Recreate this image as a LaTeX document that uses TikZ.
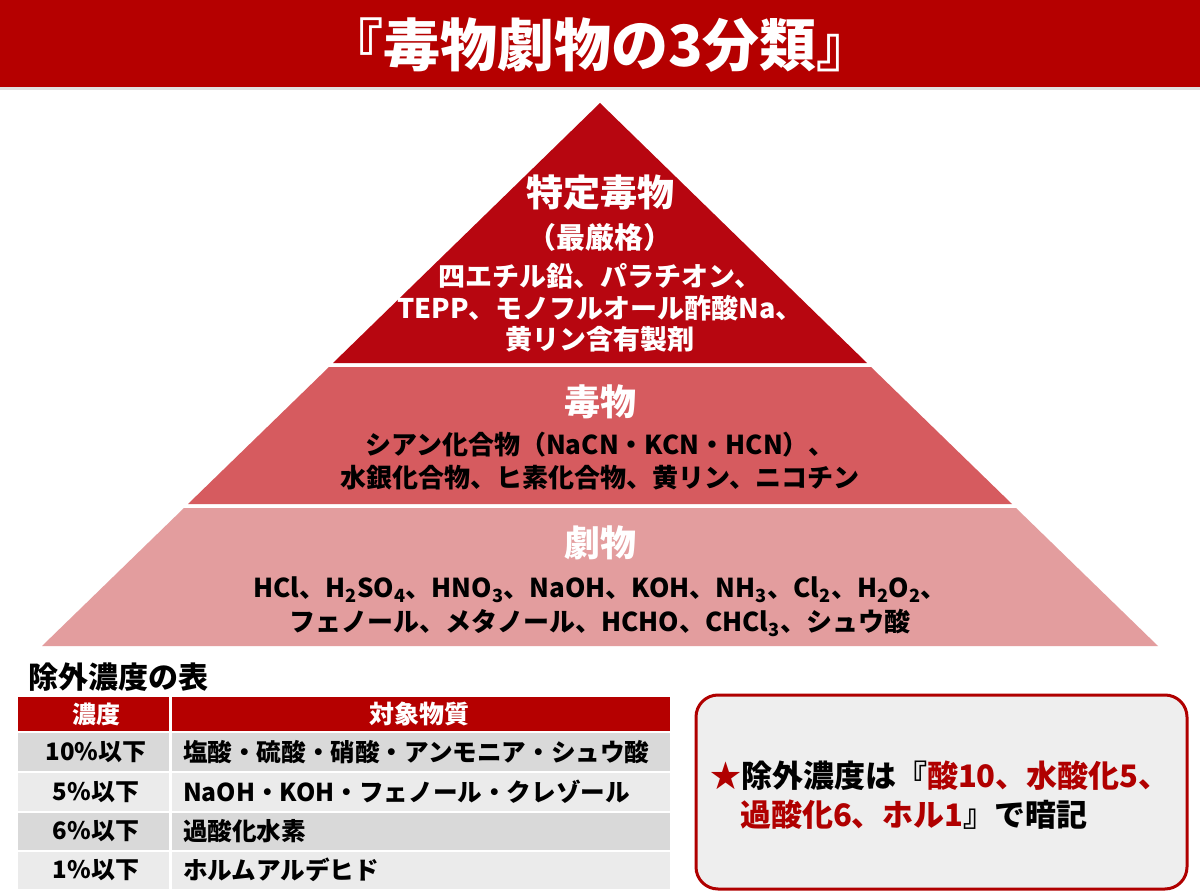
\documentclass[tikz,border=0pt]{standalone}
\usepackage{fontspec}
\setmainfont{Noto Sans CJK JP}
\definecolor{titlered}{HTML}{B50000}
\definecolor{tierA}{HTML}{B70610}
\definecolor{tierB}{HTML}{D65B5F}
\definecolor{tierC}{HTML}{E39D9E}
\definecolor{rowdark}{HTML}{D9D9D9}
\definecolor{rowlight}{HTML}{EBEBEB}
\definecolor{boxfill}{HTML}{EEEEEE}
\definecolor{accent}{HTML}{B00000}
\newcommand{\chsub}[1]{\textsubscript{#1}}
\begin{document}
\begin{tikzpicture}[x=1pt,y=1pt,
  txt/.style={inner sep=0pt, outer sep=0pt, font=\bfseries},
  headtxt/.style={txt, text=white, font=\fontsize{36}{40}\selectfont\bfseries},
  bodytxt/.style={txt, align=center},
  celltxt/.style={txt, font=\fontsize{24}{28}\selectfont\bfseries},
  memotxt/.style={txt, anchor=west, font=\fontsize{31}{36}\selectfont\bfseries}]
\useasboundingbox (0,0) rectangle (1200,-896);
\fill[white] (0,0) rectangle (1200,-896);
% title bar
\fill[black!12] (0,-86) rectangle (1200,-90);
\fill[titlered] (0,0) rectangle (1200,-87);
\node[txt, text=white, font=\fontsize{57}{62}\selectfont\bfseries] (title) at (600,-45) {『毒物劇物の3分類』};
% pyramid
\fill[tierA] (600,-103) -- (333,-363) -- (867,-363) -- cycle;
\fill[tierB] (329,-367) -- (871,-367) -- (1012,-504) -- (188,-504) -- cycle;
\fill[tierC] (184,-508) -- (1016,-508) -- (1158,-646) -- (42,-646) -- cycle;
% tier 1
\node[txt, text=white, font=\fontsize{37}{42}\selectfont\bfseries] (t1head) at (600,-193) {特定毒物};
\node[txt, text=white, font=\fontsize{29}{32}\selectfont\bfseries] (t1sub) at (600,-237) {（最厳格）};
\node[bodytxt, text=white, font=\fontsize{27}{31.5}\selectfont\bfseries] (t1body) at (600,-308) {四エチル鉛、パラチオン、\\TEPP、モノフルオール酢酸Na、\\黄リン含有製剤};
% tier 2
\node[headtxt] (t2head) at (600,-402) {毒物};
\node[bodytxt, text=black, font=\fontsize{26}{33}\selectfont\bfseries] (t2body) at (600,-461.5) {シアン化合物（NaCN・KCN・HCN）、\\水銀化合物、ヒ素化合物、黄リン、ニコチン};
% tier 3
\node[headtxt] (t3head) at (600,-543) {劇物};
\node[bodytxt, text=black, font=\fontsize{26}{34}\selectfont\bfseries] (t3body) at (600,-607) {HCl、H\chsub{2}SO\chsub{4}、HNO\chsub{3}、NaOH、KOH、NH\chsub{3}、Cl\chsub{2}、H\chsub{2}O\chsub{2}、\\フェノール、メタノール、HCHO、CHCl\chsub{3}、シュウ酸};
% table
\node[txt, anchor=west, font=\fontsize{30}{34}\selectfont\bfseries] (tabtitle) at (28,-677) {除外濃度の表};
\fill[titlered] (18,-697) rectangle (169,-731);
\fill[titlered] (172,-697) rectangle (670,-731);
\fill[rowdark] (18,-733) rectangle (169,-771);
\fill[rowdark] (172,-733) rectangle (670,-771);
\fill[rowlight] (18,-773) rectangle (169,-811);
\fill[rowlight] (172,-773) rectangle (670,-811);
\fill[rowdark] (18,-813) rectangle (169,-850);
\fill[rowdark] (172,-813) rectangle (670,-850);
\fill[rowlight] (18,-852) rectangle (169,-889);
\fill[rowlight] (172,-852) rectangle (670,-889);
\node[txt, text=white, font=\fontsize{24}{28}\selectfont\bfseries] (h1) at (96,-714) {濃度};
\node[txt, text=white, font=\fontsize{25}{28}\selectfont\bfseries] (h2) at (419,-714) {対象物質};
\node[celltxt] (c11) at (96,-752) {10\%以下};
\node[celltxt] (c21) at (96,-792) {5\%以下};
\node[celltxt] (c31) at (96,-831) {6\%以下};
\node[celltxt] (c41) at (96,-870) {1\%以下};
\node[celltxt, anchor=west, font=\fontsize{24.6}{28}\selectfont\bfseries] (c12) at (183,-752) {塩酸・硫酸・硝酸・アンモニア・シュウ酸};
\node[celltxt, anchor=west, font=\fontsize{24.6}{28}\selectfont\bfseries] (c22) at (183,-792) {NaOH・KOH・フェノール・クレゾール};
\node[celltxt, anchor=west, font=\fontsize{24.6}{28}\selectfont\bfseries] (c32) at (183,-831) {過酸化水素};
\node[celltxt, anchor=west, font=\fontsize{24.6}{28}\selectfont\bfseries] (c42) at (183,-870) {ホルムアルデヒド};
% memo box
\draw[accent, line width=3pt, fill=boxfill, rounded corners=22pt] (696,-695) rectangle (1187,-889);
\node[memotxt] (memo1) at (710,-776) {\textcolor{accent}{★}除外濃度は『\textcolor{accent}{酸10、水酸化5、}};
\node[memotxt] (memo2) at (740,-815) {\textcolor{accent}{過酸化6、ホル1}』で暗記};
\end{tikzpicture}
\end{document}
